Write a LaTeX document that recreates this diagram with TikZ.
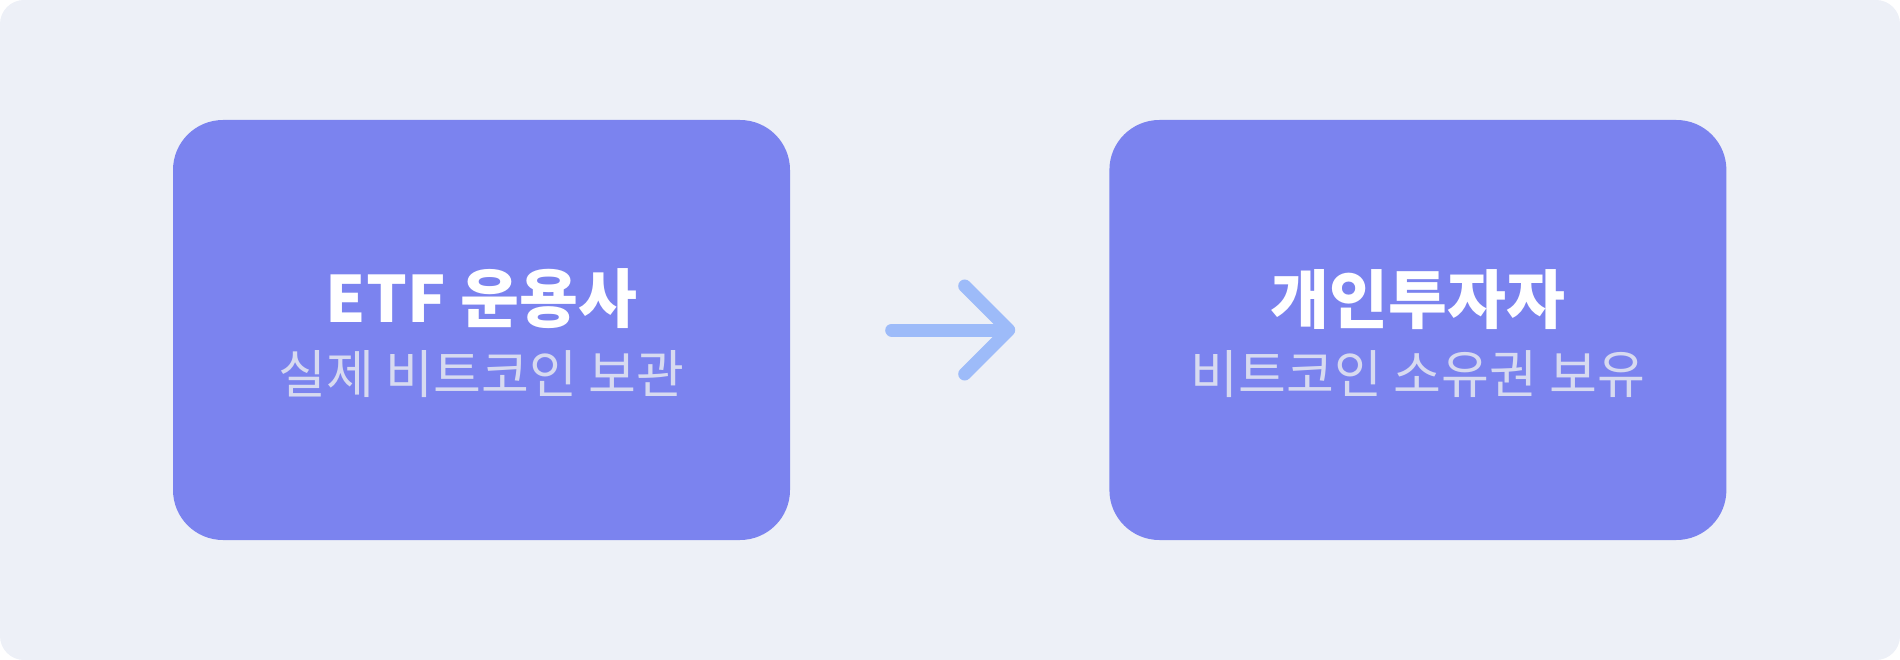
\documentclass[tikz,border=0pt]{standalone}
\usepackage{fontspec}
\usepackage{xcolor}
\usetikzlibrary{arrows.meta,positioning}

\newfontfamily\krfont{Noto Sans CJK KR}

\definecolor{bgcol}{HTML}{EDF0F7}
\definecolor{boxcol}{HTML}{7B83EF}
\definecolor{subcol}{HTML}{D7DAF0}
\definecolor{arrowcol}{HTML}{9DBBF9}

\begin{document}
\begin{tikzpicture}[x=1pt,y=-1pt,
  card/.style={fill=boxcol,rounded corners=50pt,minimum width=617pt,minimum height=420pt,inner sep=0pt},
  titletext/.style={text=white,font=\krfont\bfseries\fontsize{64pt}{72pt}\selectfont,anchor=base,inner sep=0pt},
  subtext/.style={text=subcol,font=\krfont\fontsize{52pt}{60pt}\selectfont,anchor=base,inner sep=0pt},
  flow/.style={arrowcol,line width=13pt,line cap=round,-{Straight Barb[length=44pt,width=88pt,round]}}]
\useasboundingbox (0,0) rectangle (1900,660);
\fill[bgcol,rounded corners=24pt] (0,0) rectangle (1900,660);

\node[card] (etf) at (481.5,330) {};
\node[card,right=319pt of etf] (investor) {};

\node[titletext] (etftitle) at ([yshift=8pt]etf.center) {ETF 운용사};
\node[subtext] (etfsub) at ([yshift=-63pt]etf.center) {실제 비트코인 보관};

\node[titletext] (invtitle) at ([yshift=7pt]investor.center) {개인투자자};
\node[subtext] (invsub) at ([yshift=-63pt]investor.center) {비트코인 소유권 보유};

\draw[flow] ([xshift=101.5pt]etf.east) -- ([xshift=-94pt]investor.west);
\end{tikzpicture}
\end{document}
